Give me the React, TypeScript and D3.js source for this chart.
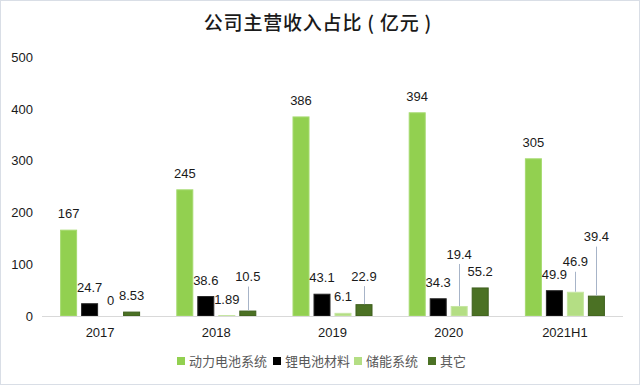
import React, { useEffect, useRef } from "react"
import * as d3 from "d3"

// data
const categories = ["2017", "2018", "2019", "2020", "2021H1"]
const seriesNames = ["动力电池系统", "锂电池材料", "储能系统", "其它"]
const powerBattery = [167, 245, 386, 394, 305]
const lithiumMaterial = [24.7, 38.6, 43.1, 34.3, 49.9]
const energyStorage = [0, 1.89, 6.1, 19.4, 46.9]
const others = [8.53, 10.5, 22.9, 55.2, 39.4]
const yTicks = [0, 100, 200, 300, 400, 500]

const colors = ["#92D050", "#000000", "#B4DE84", "#4B7124"]
const strokes = ["#A6DA70", "#262626", "#C6E6A2", "#3E5F1D"]

// extra lift (px) for labels that sit on a leader line, keyed "series-category"
const labelLift: Record<string, number> = {
  "3-1": 18,
  "3-2": 12,
  "2-3": 36,
  "2-4": 14,
  "3-4": 43,
}

const W = 640
const H = 385

const drawChart = (wrapper: SVGSVGElement) => {
  const svg = d3.select(wrapper)
  svg.selectAll("*").remove()

  const series = [powerBattery, lithiumMaterial, energyStorage, others]
  const font = "'Liberation Sans', Arial, sans-serif"

  svg.append("rect")
    .attr("x", 0.5).attr("y", 0.5)
    .attr("width", W - 1).attr("height", H - 1)
    .attr("fill", "#fff")
    .attr("stroke", "#D9DEE6")

  svg.append("text")
    .attr("x", 318).attr("y", 30)
    .attr("text-anchor", "middle")
    .style("font-family", "'Noto Sans CJK SC', sans-serif")
    .style("font-size", "19px")
    .style("font-weight", "500")
    .style("letter-spacing", "0.8px")
    .style("white-space", "pre")
    .attr("fill", "#1a1a1a")
    .text("公司主营收入占比 ( 亿元 )")

  const x = d3.scaleBand().domain(categories).range([42, 623])
  const y = d3.scaleLinear().domain([0, 500]).range([316, 57.5])
  const inner = d3.scaleBand()
    .domain(seriesNames)
    .range([-40, 40])
    .paddingInner(0.19)

  // y tick labels
  svg.append("g")
    .selectAll("text")
    .data(yTicks)
    .join("text")
    .attr("x", 33)
    .attr("y", d => y(d))
    .attr("dy", "0.35em")
    .attr("text-anchor", "end")
    .style("font-family", font)
    .style("font-size", "13px")
    .attr("fill", "#1a1a1a")
    .text(d => d)

  // bars
  series.forEach((vals, si) => {
    svg.append("g")
      .selectAll("rect")
      .data(vals)
      .join("rect")
      .attr("x", (d, i) => x(categories[i])! + x.bandwidth() / 2 + inner(seriesNames[si])! + 0.5)
      .attr("y", d => y(d) + 0.5)
      .attr("width", inner.bandwidth() - 1)
      .attr("height", d => Math.max(0, y(0) - y(d) - 0.5))
      .attr("fill", colors[si])
      .attr("stroke", strokes[si])
      .attr("stroke-width", d => (d > 0.5 ? 1 : 0))
  })

  // baseline
  svg.append("line")
    .attr("x1", 42).attr("x2", 623)
    .attr("y1", y(0) + 0.5).attr("y2", y(0) + 0.5)
    .attr("stroke", "#D9D9D9")

  // data labels + leader lines
  series.forEach((vals, si) => {
    vals.forEach((v, i) => {
      const cx = x(categories[i])! + x.bandwidth() / 2 + inner(seriesNames[si])! + inner.bandwidth() / 2
      const lift = labelLift[si + "-" + i] || 0
      const ly = y(v) - 16 - lift
      if (lift > 0) {
        svg.append("line")
          .attr("x1", Math.round(cx) + 0.5).attr("x2", Math.round(cx) + 0.5)
          .attr("y1", ly + 10).attr("y2", y(v))
          .attr("stroke", "#A7B4C8")
          .attr("stroke-width", 1)
      }
      svg.append("text")
        .attr("x", cx)
        .attr("y", ly)
        .attr("dy", "0.35em")
        .attr("text-anchor", "middle")
        .style("font-family", font)
        .style("font-size", "13px")
        .attr("fill", "#1a1a1a")
        .text(String(v))
    })
  })

  // x labels
  svg.append("g")
    .selectAll("text")
    .data(categories)
    .join("text")
    .attr("x", d => x(d)! + x.bandwidth() / 2)
    .attr("y", 332)
    .attr("dy", "0.35em")
    .attr("text-anchor", "middle")
    .style("font-family", font)
    .style("font-size", "13px")
    .attr("fill", "#1a1a1a")
    .text(d => d)

  // legend
  const legendX = [177, 273, 354, 428]
  const lg = svg.append("g")
  seriesNames.forEach((name, si) => {
    lg.append("rect")
      .attr("x", legendX[si]).attr("y", 357)
      .attr("width", 8).attr("height", 8)
      .attr("fill", colors[si])
    lg.append("text")
      .attr("x", legendX[si] + 12)
      .attr("y", 361)
      .attr("dy", "0.35em")
      .style("font-family", "'Noto Sans CJK SC', sans-serif")
      .style("font-size", "13px")
      .attr("fill", "#595959")
      .text(name)
  })
}

export default function App() {
  const ref = useRef<SVGSVGElement>(null)
  useEffect(() => {
    if (ref.current) drawChart(ref.current)
  }, [])

  return (
    <div style={{ position: "absolute", left: 0, top: 0 }}>
      <svg ref={ref} width={W} height={H} style={{ display: "block" }}></svg>
    </div>
  )
}
